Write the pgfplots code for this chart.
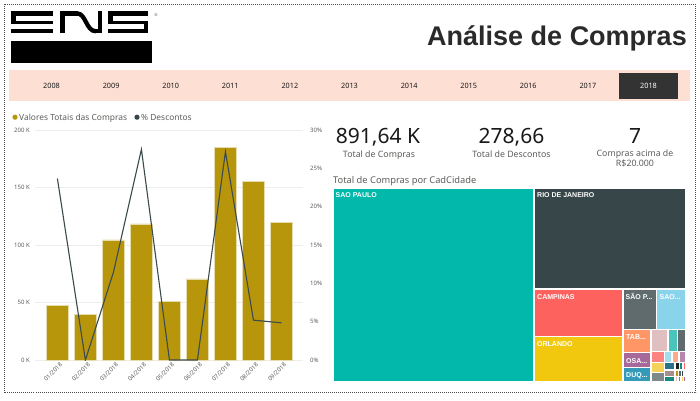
\documentclass[border=0pt]{standalone}
\usepackage{fontspec}
\setmainfont{Noto Sans}
\newfontfamily\titlefont{Liberation Sans}
\newfontfamily\boldfont{Liberation Sans Bold}
\usepackage{pgfplots}
\pgfplotsset{compat=1.18}
\definecolor{gold}{HTML}{B8960C}
\definecolor{barborder}{HTML}{E6DCAE}
\definecolor{linecol}{HTML}{3B4A4C}
\definecolor{gridgray}{HTML}{EDEDED}
\definecolor{labgray}{HTML}{605E5C}
\definecolor{band}{HTML}{FDDFD3}
\definecolor{darkbox}{HTML}{333333}
\definecolor{titlecol}{HTML}{2A2A2A}
\definecolor{tTeal}{HTML}{01B8AA}
\definecolor{tDark}{HTML}{374649}
\definecolor{tRed}{HTML}{FD625E}
\definecolor{tYellow}{HTML}{F2C80F}
\definecolor{tGray}{HTML}{5F6B6D}
\definecolor{tLBlue}{HTML}{8AD4EB}
\definecolor{tOrange}{HTML}{FE9666}
\definecolor{tPurple}{HTML}{A66999}
\definecolor{tBlue}{HTML}{3599B8}
\definecolor{tPink}{HTML}{DFBFBF}
\definecolor{tTeal2}{HTML}{4AC5BB}
\definecolor{tRed2}{HTML}{FB8281}
\definecolor{tLBlue2}{HTML}{A4DDEE}
\definecolor{tOrange2}{HTML}{FDAB89}
\definecolor{tPurple2}{HTML}{B687AC}
\definecolor{tYellow2}{HTML}{F4D25A}
\definecolor{tGray3}{HTML}{7F898A}
\definecolor{tDBlue}{HTML}{28738A}
\definecolor{tBrown}{HTML}{A78F8F}
\definecolor{tDTeal}{HTML}{168980}
\definecolor{tBlack}{HTML}{1C2325}
\newcommand{\fs}[1]{\fontsize{#1bp}{#1bp}\selectfont}
\newcommand{\cell}[5]{\addplot[fill=#5, draw=white, line width=1.2bp] coordinates {(#1,#2) (#3,#2) (#3,#4) (#1,#4)} -- cycle;}
\begin{document}
\begin{tikzpicture}[x=1bp,y=-1bp]
\useasboundingbox (0,0) rectangle (700,400);
\fill[white] (0,0) rectangle (700,400);
% outer dotted border
\draw[color=black!70, line width=0.9bp, dash pattern=on 0.9bp off 1.1bp] (4,4) rectangle (695.5,392.5);
% logo
\fill[black] (11,40.7) rectangle (152,62.7);
\fill[black] (11,11) rectangle (53,15.7);
\fill[black] (11,11) rectangle (15.5,24);
\fill[black] (11,20.7) rectangle (53,24);
\fill[black] (11,29.3) rectangle (53,33.3);
\fill[black] (60,11) rectangle (64.5,33.3);
\fill[black] (60,11) rectangle (78,15.7);
\draw[black, line width=4.3bp] (77,13.35) .. controls (86,13.35) and (86,31.3) .. (96,31.3);
\fill[black] (95,29.3) rectangle (102,33.3);
\fill[black] (97.5,11) rectangle (102,33.3);
\fill[black] (108,11) rectangle (148,15.7);
\fill[black] (108,11) rectangle (112.5,24);
\fill[black] (108,20.7) rectangle (148,24);
\fill[black] (143.5,20.7) rectangle (148,33.3);
\fill[black] (108,29.3) rectangle (148,33.3);
\node[font=\fs{4}, text=black!60, inner sep=0pt] at (156,15) {\textregistered};
% title
\node[anchor=base east, inner sep=0pt, text=titlecol, font={\boldfont\fs{27}}] at (687,45) {Análise de Compras};
% year slicer
\fill[band] (9,70) rectangle (690,101);
\fill[darkbox] (619,73) rectangle (678,99);
\foreach \yr [count=\i from 0] in {2008,2009,2010,2011,2012,2013,2014,2015,2016,2017} {
  \node[anchor=base, inner sep=0pt, text=black!90, font=\fs{7.3}] at ({51.5+59.6*\i},88.7) {\yr};
}
\node[anchor=base, inner sep=0pt, text=white, font=\fs{7.3}] at (648.5,88.7) {2018};
% legend
\fill[gold] (15,117.2) circle (2.6);
\node[anchor=base west, inner sep=0pt, text=labgray, font=\fs{8.4}] at (19,120) {Valores Totais das Compras};
\fill[tDark] (137,117.2) circle (2.6);
\node[anchor=base west, inner sep=0pt, text=labgray, font=\fs{8.4}] at (141,120) {\% Descontos};
% KPI cards
\node[anchor=base, inner sep=0pt, text=black!90, font=\fs{21}] at (378,143) {891,64 K};
\node[anchor=base, inner sep=0pt, text=labgray, font=\fs{8.8}] at (379,157.5) {Total de Compras};
\node[anchor=base, inner sep=0pt, text=black!90, font=\fs{21}] at (511.5,143) {278,66};
\node[anchor=base, inner sep=0pt, text=labgray, font=\fs{8.8}] at (511.5,157.5) {Total de Descontos};
\node[anchor=base, inner sep=0pt, text=black!90, font=\fs{21}] at (635,143) {7};
\node[anchor=base, inner sep=0pt, text=labgray, font=\fs{8.8}] at (635,156) {Compras acima de};
\node[anchor=base, inner sep=0pt, text=labgray, font=\fs{8.8}] at (635,166) {R\$20.000};
\node[anchor=base west, inner sep=0pt, text=labgray, font=\fs{9.3}] at (333,183) {Total de Compras por CadCidade};
% bar chart
\begin{axis}[
  at={(35bp,-360bp)}, anchor=south west, scale only axis,
  width=268bp, height=230bp,
  xmin=-0.8, xmax=8.77, ymin=0, ymax=200,
  axis line style={draw=none}, major tick length=0pt,
  ytick={0,50,100,150,200}, yticklabels={0 K,50 K,100 K,150 K,200 K},
  ymajorgrids, grid style={color=gridgray, line width=0.7bp},
  xtick={0,1,2,3,4,5,6,7,8},
  xticklabels={01/2018,02/2018,03/2018,04/2018,05/2018,06/2018,07/2018,08/2018,09/2018},
  x tick label style={rotate=45, anchor=north east, font=\fs{6}, text=labgray, inner sep=0pt, yshift=-3bp},
  y tick label style={font=\fs{6}, text=labgray, inner sep=0pt, xshift=-5bp},
  ybar, bar width=21.7bp,
]
\addplot[fill=gold, draw=barborder, line width=0.6bp] coordinates {(0,47.3) (1,40.0) (2,104.4) (3,118.3) (4,51.0) (5,70.6) (6,185.2) (7,155.3) (8,119.5)};
\end{axis}
\begin{axis}[
  at={(35bp,-360bp)}, anchor=south west, scale only axis,
  width=268bp, height=230bp,
  xmin=-0.8, xmax=8.77, ymin=0, ymax=30,
  axis y line*=right, axis x line=none,
  axis line style={draw=none}, major tick length=0pt,
  ytick={0,5,10,15,20,25,30},
  yticklabel={\pgfmathprintnumber{\tick}\%},
  /pgf/number format/assume math mode=true,
  y tick label style={font=\fs{6}, text=labgray, inner sep=0pt, xshift=7bp, anchor=west},
]
\addplot[linecol, line width=1.1bp, mark=none] coordinates {(0,23.67) (1,0) (2,11.44) (3,27.48) (4,0) (5,0) (6,27.18) (7,5.2) (8,4.85)};
\end{axis}
% treemap
\begin{axis}[
  at={(333bp,-382bp)}, anchor=south west, scale only axis,
  width=353bp, height=194bp,
  xmin=333, xmax=686, ymin=188, ymax=382, y dir=reverse,
  hide axis, clip=false,
]
\cell{333}{188}{534}{382}{tTeal}
\cell{534}{188}{686}{289}{tDark}
\cell{534}{289}{623}{336.5}{tRed}
\cell{534}{336.5}{623}{382}{tYellow}
\cell{623}{289}{656.5}{329.5}{tGray}
\cell{656.5}{289}{686}{329.5}{tLBlue}
\cell{623}{329.5}{651}{352.5}{tOrange}
\cell{623}{352.5}{651}{367.5}{tPurple}
\cell{623}{367.5}{651}{382}{tBlue}
\cell{651}{329.5}{668}{351.5}{tPink}
\cell{668}{329.5}{677.5}{351.5}{tTeal2}
\cell{677.5}{329.5}{686}{351.5}{tGray}
\cell{651}{351.5}{664.5}{362.5}{tRed2}
\cell{664.5}{351.5}{672}{362.5}{tLBlue2}
\cell{672}{351.5}{679}{362.5}{tOrange2}
\cell{679}{351.5}{686}{362.5}{tPurple2}
\cell{651}{362.5}{664.5}{372.5}{tYellow2}
\cell{651}{372.5}{664.5}{382}{tGray3}
\cell{664.5}{362.5}{675}{370}{tDBlue}
\cell{675}{362.5}{679.5}{370}{tBlack}
\cell{679.5}{362.5}{683}{370}{tDTeal}
\cell{683}{362.5}{686}{370}{tRed}
\cell{664.5}{370}{675}{376.5}{tBrown}
\cell{675}{370}{678.5}{376.5}{gold}
\cell{678.5}{370}{681.5}{376.5}{tGray}
\cell{681.5}{370}{684}{376.5}{tDark}
\cell{684}{370}{686}{376.5}{tLBlue}
\cell{664.5}{376.5}{675}{382}{tDTeal}
\cell{675}{376.5}{678}{382}{tPink}
\cell{678}{376.5}{681}{382}{tBlue}
\cell{681}{376.5}{683.5}{382}{tYellow2}
\cell{683.5}{376.5}{686}{382}{tPurple}
\node[anchor=base west, inner sep=0pt, text=white, font=\boldfont\fs{7}] at (axis cs:335.5,197.5) {SAO PAULO};
\node[anchor=base west, inner sep=0pt, text=white, font=\boldfont\fs{7}] at (axis cs:537,197.5) {RIO DE JANEIRO};
\node[anchor=base west, inner sep=0pt, text=white, font=\boldfont\fs{7}] at (axis cs:537,299) {CAMPINAS};
\node[anchor=base west, inner sep=0pt, text=white, font=\boldfont\fs{7}] at (axis cs:537,346) {ORLANDO};
\node[anchor=base west, inner sep=0pt, text=white, font=\boldfont\fs{7}] at (axis cs:625.5,299) {SÃO P...};
\node[anchor=base west, inner sep=0pt, text=white, font=\boldfont\fs{7}] at (axis cs:659.5,299) {SAO...};
\node[anchor=base west, inner sep=0pt, text=white, font=\boldfont\fs{7}] at (axis cs:626,339) {TAB...};
\node[anchor=base west, inner sep=0pt, text=white, font=\boldfont\fs{7}] at (axis cs:626,363) {OSA...};
\node[anchor=base west, inner sep=0pt, text=white, font=\boldfont\fs{7}] at (axis cs:626,377.5) {DUQ...};
\end{axis}
\end{tikzpicture}
\end{document}
